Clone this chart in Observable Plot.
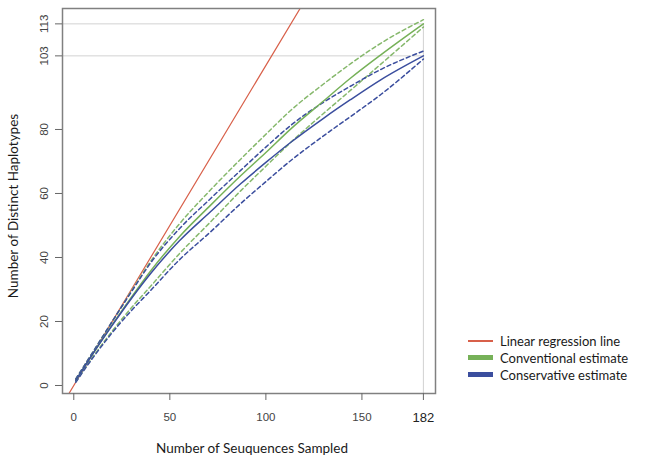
<!DOCTYPE html>
<html><head><meta charset="utf-8">
<script src="https://cdn.jsdelivr.net/npm/d3@7"></script>
<script src="https://cdn.jsdelivr.net/npm/@observablehq/plot@0.6"></script>
<style>
body{margin:0;background:#fff;}
#wrap{position:relative;width:656px;height:465px;overflow:hidden;}
.ttl{position:absolute;font-family:Lato,'Open Sans',sans-serif;font-size:13.5px;color:#1a1a1a;white-space:nowrap;}
#xt{left:252px;top:448px;transform:translate(-50%,-50%);}
#yt{left:13px;top:206px;transform:translate(-50%,-50%) rotate(-90deg);}
#legend{position:absolute;left:468px;top:332px;font-family:Lato,'Open Sans',sans-serif;font-size:13px;color:#1a1a1a;}
.row{display:flex;align-items:center;height:17px;}
.sw{width:25px;margin-right:7px;}
</style></head><body><div id="wrap"></div><script>
// Sample sizes at which the curves were read
const sampleSizes = [1, 10, 20, 30, 40, 55, 71, 87, 100, 113, 130, 144, 160, 182];
// Conventional estimate (green) and its bounds
const conventional      = [1.5, 10.0, 19.0, 27.6, 35.8, 46.5, 56.2, 65.6, 72.8, 80.2, 88.9, 96.0, 103.4, 113.0];
const conventionalUpper = [2.0, 10.5, 20.0, 29.5, 38.8, 50.5, 61.0, 70.8, 78.5, 86.0, 94.2, 100.5, 107.0, 114.3];
const conventionalLower = [1.2, 9.0, 17.0, 24.3, 31.0, 41.2, 51.0, 60.9, 68.5, 76.0, 85.0, 92.2, 100.5, 112.0];
// Conservative estimate (blue) and its bounds
const conservative      = [1.5, 10.0, 18.8, 27.2, 35.0, 45.2, 54.2, 63.1, 69.7, 76.0, 83.5, 89.3, 95.6, 103.0];
const conservativeUpper = [2.0, 10.5, 20.0, 29.3, 38.3, 49.0, 58.3, 67.3, 74.5, 81.3, 88.5, 93.5, 98.8, 104.5];
const conservativeLower = [1.0, 8.7, 16.5, 23.4, 29.7, 39.3, 47.9, 56.9, 63.7, 70.3, 78.0, 84.0, 91.0, 102.0];
// Linear regression line
const regSlope = 1.0;
const regIntercept = 0;
// Ticks and guides
const xTicks = [0, 50, 100, 150, 182];
const yTicks = [0, 20, 40, 60, 80, 103, 113];
const hGuides = [103, 113];
const legendLabels = ["Linear regression line", "Conventional estimate", "Conservative estimate"];

const RED = "#d8604a", GREEN = "#76b158", GREEN_D = "#86b86c", BLUE = "#3b4e9e";
const xDomain = [-5.88, 188.3], yDomain = [-2.5, 117.8];
const xMax = sampleSizes[sampleSizes.length - 1];
const mk = ys => sampleSizes.map((x, i) => ({x, y: ys[i]}));
const regLine = xDomain.map(x => ({x, y: regSlope * x + regIntercept}));
const dashed = (ys, c) => Plot.line(mk(ys), {x: "x", y: "y", stroke: c, strokeWidth: 1.5, strokeDasharray: "4,3", curve: "monotone-x"});
const solid = (ys, c) => Plot.line(mk(ys), {x: "x", y: "y", stroke: c, strokeWidth: 1.5, curve: "monotone-x"});

const chart = Plot.plot({
  width: 656, height: 465,
  marginLeft: 62, marginRight: 221, marginTop: 8, marginBottom: 72,
  x: {domain: xDomain}, y: {domain: yDomain},
  style: {fontFamily: "'Liberation Sans', Arial, sans-serif", fontSize: "11.5px", color: "#444", background: "#fff"},
  marks: [
    Plot.ruleY(hGuides, {x1: xDomain[0], x2: xMax, stroke: "#d2d2d2"}),
    Plot.ruleX([xMax], {y1: yDomain[0], y2: d3.max(hGuides), stroke: "#d2d2d2"}),
    Plot.line(regLine, {x: "x", y: "y", stroke: RED, strokeWidth: 1.2, clip: true}),
    dashed(conventionalUpper, GREEN_D),
    dashed(conventionalLower, GREEN_D),
    dashed(conservativeUpper, BLUE),
    dashed(conservativeLower, BLUE),
    solid(conventional, GREEN),
    solid(conservative, BLUE),
    Plot.frame({stroke: "#808080", strokeWidth: 1.5}),
    Plot.axisX({ticks: xTicks, tickSize: 7, tickPadding: 12, label: null, stroke: "#666"}),
    Plot.axisY({ticks: yTicks, tickSize: 7, tickRotate: -90, tickPadding: 8, label: null, stroke: "#666"})
  ]
});
const wrap = document.getElementById("wrap");
wrap.appendChild(chart);
d3.select(chart).selectAll("g[aria-label='x-axis tick label'] text")
  .filter(function(){ return this.textContent === "182"; })
  .attr("font-size", 13).attr("fill", "#222");

const xt = document.createElement("div"); xt.className = "ttl"; xt.id = "xt"; xt.textContent = "Number of Seuquences Sampled"; wrap.appendChild(xt);
const yt = document.createElement("div"); yt.className = "ttl"; yt.id = "yt"; yt.textContent = "Number of Distinct Haplotypes"; wrap.appendChild(yt);
const lg = document.createElement("div"); lg.id = "legend"; wrap.appendChild(lg);
const swColors = [RED, GREEN, BLUE], swH = [2, 5, 5];
legendLabels.forEach((t, i) => {
  const r = document.createElement("div"); r.className = "row";
  const s = document.createElement("div"); s.className = "sw"; s.style.height = swH[i] + "px"; s.style.background = swColors[i];
  const l = document.createElement("span"); l.textContent = t;
  r.appendChild(s); r.appendChild(l); lg.appendChild(r);
});
</script></body></html>
